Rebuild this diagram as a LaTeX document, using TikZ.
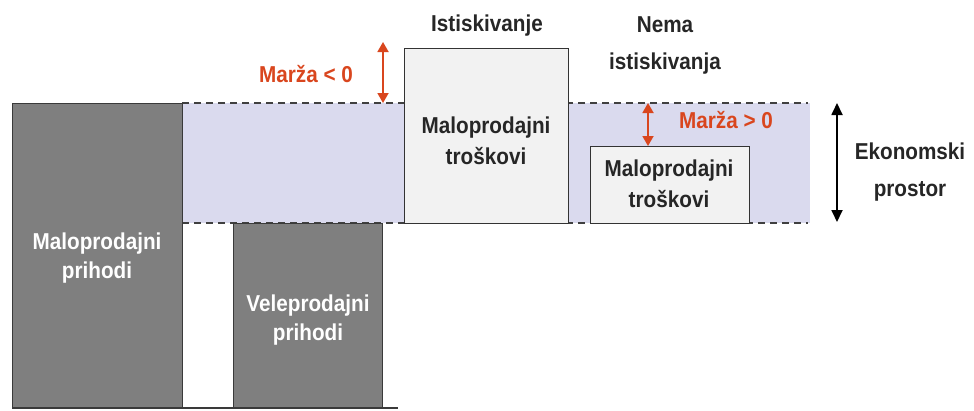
\documentclass[tikz,border=0pt]{standalone}
\usepackage{fontspec}
\setmainfont{Liberation Sans}
\newfontfamily\diagfont[FakeStretch=0.9]{Liberation Sans}
\usetikzlibrary{arrows.meta}
\definecolor{barfill}{HTML}{7F7F7F}
\definecolor{barline}{HTML}{3A3A3A}
\definecolor{boxfill}{HTML}{F2F2F2}
\definecolor{bandfill}{HTML}{DADAEE}
\definecolor{marza}{HTML}{D9461E}
\begin{document}
\begin{tikzpicture}[x=1pt,y=-1pt,
  bar/.style={draw=barline, line width=1.4pt, fill=barfill, inner sep=0pt, anchor=north west},
  costbox/.style={draw=black!80, line width=1.4pt, fill=boxfill, inner sep=0pt, anchor=north west},
  bartext/.style={text=white, font=\diagfont\fontsize{23}{29}\selectfont\bfseries, align=center, inner sep=0pt},
  boxtext/.style={text=black!85, font=\diagfont\fontsize{23}{31}\selectfont\bfseries, align=center, inner sep=0pt},
  lbl/.style={text=black!85, font=\diagfont\fontsize{23}{37}\selectfont\bfseries, align=center, inner sep=0pt},
  mlbl/.style={text=marza, font=\diagfont\fontsize{23}{24}\selectfont\bfseries, inner sep=0pt},
  dashline/.style={draw=black!75, line width=1.4pt, dash pattern=on 7pt off 5pt},
  marrow/.style={draw=marza, line width=1.8pt, {Triangle[width=11pt,length=10pt]}-{Triangle[width=11pt,length=10pt]}},
  karrow/.style={draw=black, line width=1.8pt, {Triangle[width=11pt,length=12pt]}-{Triangle[width=11pt,length=12pt]}}
]
\useasboundingbox (0,0) rectangle (974,410);
% economic space band
\fill[bandfill] (182,103) rectangle (810,223);
\coordinate (t1) at (182,103);
\coordinate (t2) at (808,103);
\coordinate (b1) at (182,223);
\coordinate (b2) at (808,223);
\draw[dashline] (t1) -- (t2);
\draw[dashline] (b1) -- (b2);
% bars
\node[bar, minimum width=170pt, minimum height=305pt] (mp) at (12,103) {};
\node[bar, minimum width=149pt, minimum height=185pt] (vp) at (233,223) {};
\coordinate (g1) at (12,408);
\coordinate (g2) at (398,408);
\draw[barline, line width=1.4pt] (g1) -- (g2);
\node[bartext] (mpt) at (97,258) {Maloprodajni\\prihodi};
\node[bartext] (vpt) at (308,320) {Veleprodajni\\prihodi};
% cost boxes
\node[costbox, minimum width=164pt, minimum height=175pt] (c1) at (404,48) {};
\node[costbox, minimum width=159pt, minimum height=77pt] (c2) at (590,146) {};
\node[boxtext] (c1t) at (486,141) {Maloprodajni\\troškovi};
\node[boxtext] (c2t) at (669,184) {Maloprodajni\\troškovi};
% headings
\node[lbl] (ist) at (487,26) {Istiskivanje};
\node[lbl] (nema) at (665,45) {Nema\\istiskivanja};
% margins
\coordinate (m1a) at (383,42);
\coordinate (m1b) at (383,103);
\draw[marrow] (m1a) -- (m1b);
\node[mlbl] (m1t) at (306,74) {Marža < 0};
\coordinate (m2a) at (648,103);
\coordinate (m2b) at (648,146);
\draw[marrow] (m2a) -- (m2b);
\node[mlbl] (m2t) at (726,120) {Marža > 0};
% economic space arrow
\coordinate (e1) at (837,103);
\coordinate (e2) at (837,222);
\draw[karrow] (e1) -- (e2);
\node[lbl] (ek) at (910,172) {Ekonomski\\prostor};
\end{tikzpicture}
\end{document}
